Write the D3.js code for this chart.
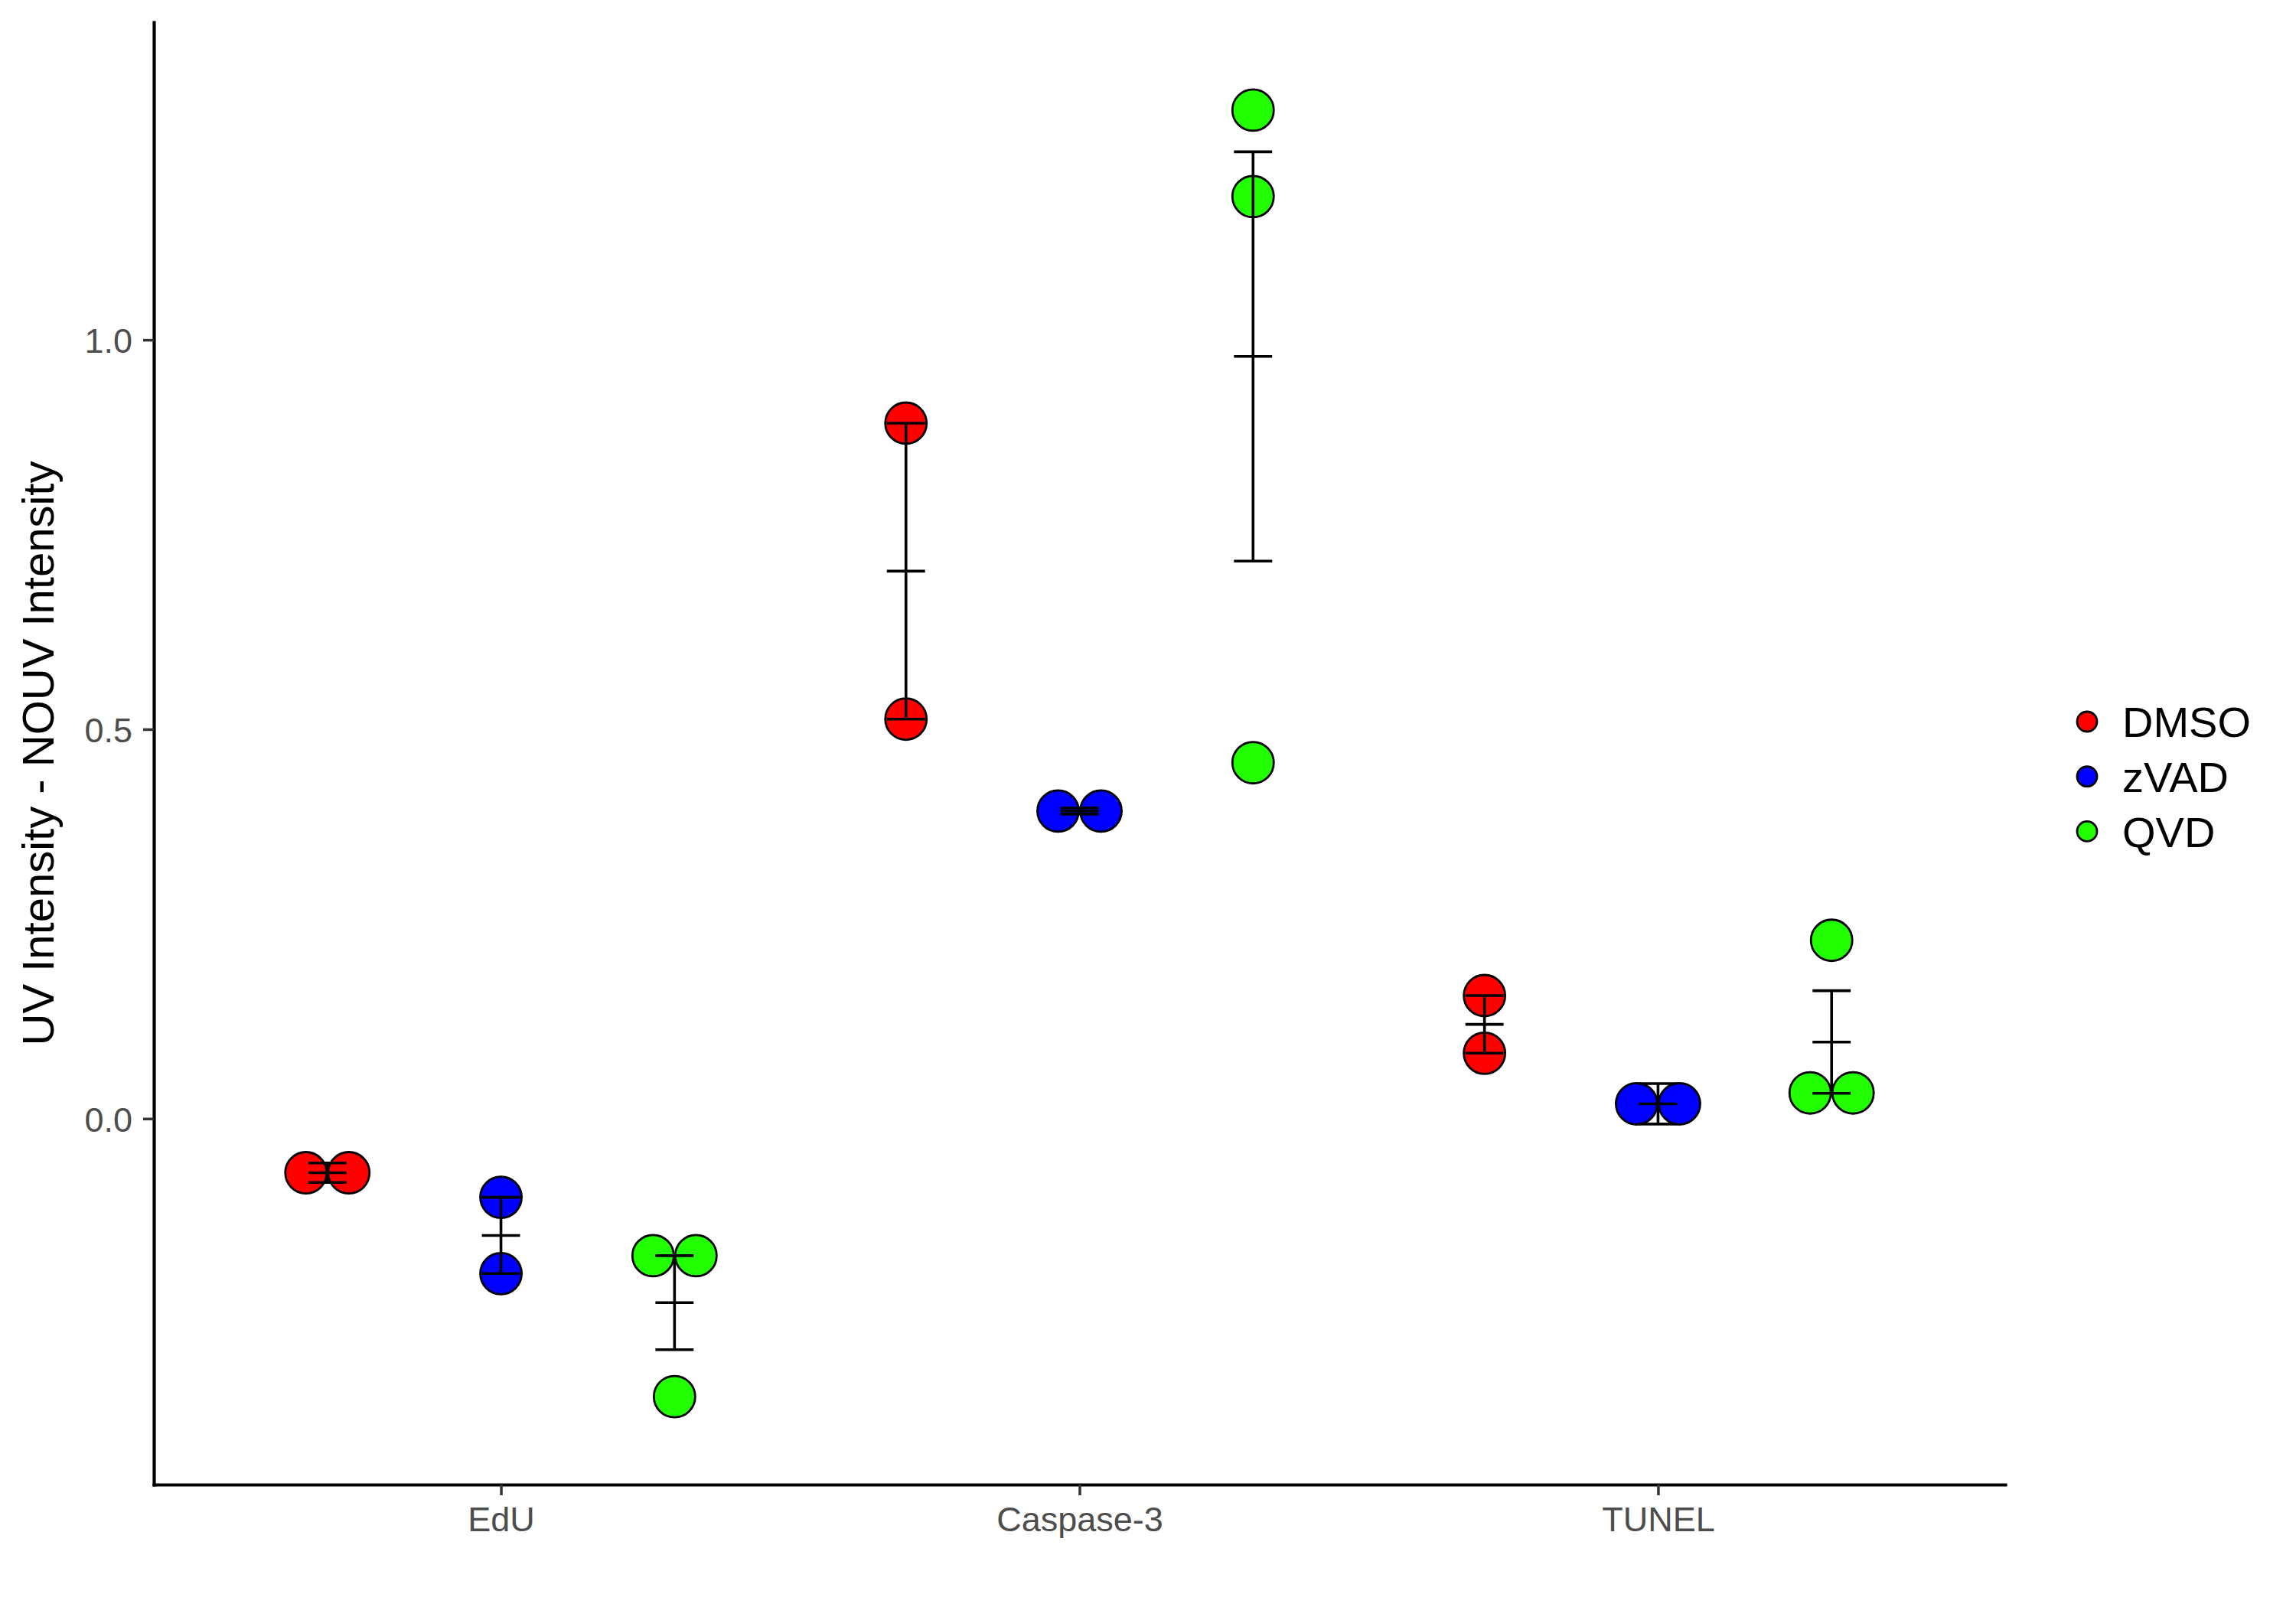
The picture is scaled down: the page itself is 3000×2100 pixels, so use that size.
<!DOCTYPE html>
<html>
<head>
<meta charset="utf-8">
<script src="https://cdn.jsdelivr.net/npm/d3@7"></script>
<style>
  html, body { margin: 0; padding: 0; background: #ffffff; }
  svg { display: block; }
  text { font-family: "Liberation Sans", Arial, Helvetica, sans-serif; }
</style>
</head>
<body>
<svg id="chart" width="3000" height="2100"></svg>
<script>
// ---- data ----
const categories = ["EdU", "Caspase-3", "TUNEL"];
const treatments = ["DMSO", "zVAD", "QVD"];
const treatmentColors = ["#FF0000", "#0000FF", "#22FF00"];
// replicate values per category (EdU, Caspase-3, TUNEL)
const dmsoValues = [[-0.057, -0.082], [0.893, 0.513], [0.158, 0.084]];
const zvadValues = [[-0.101, -0.199], [0.391, 0.399], [0.045, -0.007]];
const qvdValues  = [[-0.174, -0.178, -0.357], [1.295, 1.184, 0.457], [0.229, 0.048, 0.018]];
const yTickValues = [0.0, 0.5, 1.0];
const yTitle = "UV Intensity - NOUV Intensity";

const seriesValues = [dmsoValues, zvadValues, qvdValues];

// ---- layout ----
const panel = { left: 201, right: 2620, top: 29, bottom: 1940 };
const svg = d3.select("#chart");

// all values -> binwidth (geom_dotplot default: range/30)
const allVals = seriesValues.flat(2);
const vMin = d3.min(allVals), vMax = d3.max(allVals);
const binwidth = (vMax - vMin) / 30;
const lo0 = vMin - binwidth / 2, hi0 = vMax + binwidth / 2;
const expand = 0.05 * (hi0 - lo0);

const y = d3.scaleLinear().domain([lo0 - expand, hi0 + expand]).range([panel.bottom, panel.top]);
const x = d3.scalePoint().domain(categories).range([panel.left, panel.right]).padding(0.6);
const dodge = x.step() * 0.3;
const dotDiam = Math.abs(y(0) - y(binwidth));
const dotR = dotDiam / 2;
const capHalf = x.step() * 0.2 * 0.3 / 2 * 1.1;

// dot-density binning (per group)
function densityBins(vals, width) {
  const s = vals.slice().sort((a, b) => a - b);
  const bins = [];
  let binEnd = -Infinity, cur = null;
  s.forEach(v => {
    if (v >= binEnd) { binEnd = v + width; cur = []; bins.push(cur); }
    cur.push(v);
  });
  return bins.map(b => ({ center: (d3.min(b) + d3.max(b)) / 2, count: b.length }));
}

const dots = [];
const bars = [];
treatments.forEach((t, ti) => {
  categories.forEach((c, ci) => {
    const vals = seriesValues[ti][ci];
    const cx = x(c) + (ti - 1) * dodge;
    densityBins(vals, binwidth).forEach(b => {
      for (let k = 0; k < b.count; k++) {
        dots.push({ cx: cx + (k - (b.count - 1) / 2) * dotDiam, v: b.center, color: treatmentColors[ti] });
      }
    });
    const m = d3.mean(vals);
    const se = d3.deviation(vals) / Math.sqrt(vals.length);
    bars.push({ cx, mean: m, lo: m - se, hi: m + se });
  });
});

// ---- axes ----
const axisColor = "#000000";
const tickColor = "#333333";
const labelColor = "#4D4D4D";

const yAxis = svg.append("g")
  .attr("transform", `translate(${panel.left},0)`)
  .call(d3.axisLeft(y).tickValues(yTickValues).tickFormat(d3.format(".1f")).tickSize(14).tickSizeOuter(0).tickPadding(14));
yAxis.select(".domain").attr("stroke", axisColor).attr("stroke-width", 4.2).attr("stroke-linecap", "square");
yAxis.selectAll(".tick line").attr("stroke", tickColor).attr("stroke-width", 3.5);
yAxis.selectAll(".tick text")
  .attr("fill", labelColor).attr("font-size", 45)
  .attr("font-family", "Liberation Sans, Arial, sans-serif")
  .attr("dy", "0.36em");

const xAxis = svg.append("g")
  .attr("transform", `translate(0,${panel.bottom})`)
  .call(d3.axisBottom(x).tickSize(14).tickSizeOuter(0).tickPadding(14));
xAxis.select(".domain").attr("stroke", axisColor).attr("stroke-width", 4.2).attr("stroke-linecap", "square");
xAxis.selectAll(".tick line").attr("stroke", tickColor).attr("stroke-width", 3.5);
xAxis.selectAll(".tick text")
  .attr("fill", labelColor).attr("font-size", 45)
  .attr("font-family", "Liberation Sans, Arial, sans-serif")
  .attr("dy", null).attr("y", 61);

// y title
svg.append("text")
  .attr("transform", `translate(70,${(panel.top + panel.bottom) / 2}) rotate(-90)`)
  .attr("text-anchor", "middle")
  .attr("font-size", 58)
  .attr("fill", "#000000")
  .text(yTitle);

// ---- dots ----
svg.append("g").selectAll("circle").data(dots).join("circle")
  .attr("cx", d => d.cx)
  .attr("cy", d => y(d.v))
  .attr("r", dotR - 1)
  .attr("fill", d => d.color)
  .attr("stroke", "#000000")
  .attr("stroke-width", 2.8);

// ---- error bars (mean ± SE) ----
const eb = svg.append("g").attr("stroke", "#000000").attr("stroke-width", 3.6);
bars.forEach(b => {
  eb.append("line").attr("x1", b.cx).attr("x2", b.cx).attr("y1", y(b.hi)).attr("y2", y(b.lo));
  [b.hi, b.mean, b.lo].forEach(v => {
    eb.append("line").attr("x1", b.cx - capHalf).attr("x2", b.cx + capHalf).attr("y1", y(v)).attr("y2", y(v));
  });
});

// ---- legend ----
const legend = svg.append("g");
const legendX = 2727, legendY0 = 943, legendStep = 71.7;
treatments.forEach((t, i) => {
  const ly = legendY0 + i * legendStep;
  legend.append("circle").attr("cx", legendX).attr("cy", ly).attr("r", 13)
    .attr("fill", treatmentColors[i]).attr("stroke", "#000000").attr("stroke-width", 2.8);
  legend.append("text").attr("x", 2773).attr("y", ly).attr("dy", "0.36em")
    .attr("font-size", 56).attr("fill", "#000000").text(t);
});
</script>
</body>
</html>
